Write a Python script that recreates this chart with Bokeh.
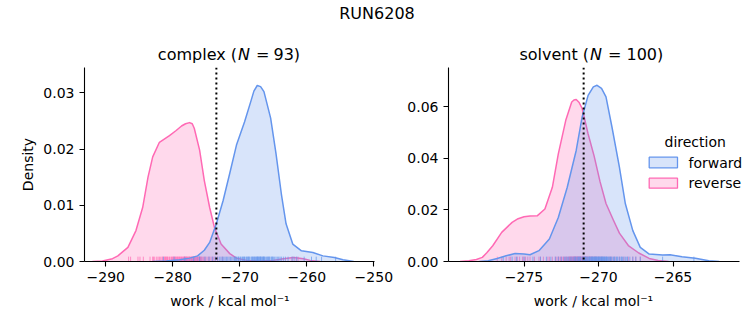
from bokeh.plotting import figure
from bokeh.layouts import column, row
from bokeh.models import Label, Span, BoxAnnotation, FixedTicker
from bokeh.embed import file_html
from bokeh.resources import INLINE

FONT = "DejaVu Sans"
BLUE = "#6495ED"
PINK = "#FF69B4"

suptitle = "RUN6208"
directions = ["forward", "reverse"]
legend_title = "direction"
xlabel = "work / kcal mol\u207b\u00b9"
ylabel = "Density"
complex_title = ["complex (", "N", "=", "93)"]
solvent_title = ["solvent (", "N", "=", "100)"]

# ---- complex phase (N = 93) ----
complex_fwd_x = [-283.0, -281.0, -279.0, -277.5, -276.3, -275.3, -274.5, -273.5, -272.5, -271.5,
                 -270.5, -269.3, -268.3, -267.9, -267.4, -266.9, -266.4, -265.4, -264.6, -263.8,
                 -263.1, -262.1, -260.8, -259.1, -257.6, -255.9, -254.6, -253.0]
complex_fwd_y = [0.0000, 0.0001, 0.0003, 0.0006, 0.0010, 0.0020, 0.0034, 0.0067, 0.0108, 0.0157,
                 0.0207, 0.0248, 0.0287, 0.0303, 0.0313, 0.0311, 0.0302, 0.0255, 0.0192, 0.0120,
                 0.0067, 0.0031, 0.0019, 0.0016, 0.0010, 0.0007, 0.0003, 0.0000]
complex_rev_x = [-292.0, -290.5, -289.0, -288.2, -286.7, -285.5, -284.5, -283.7, -283.0, -282.0,
                 -280.5, -279.5, -278.7, -278.1, -277.5, -277.1, -276.8, -276.0, -275.3, -274.5,
                 -273.8, -272.8, -271.5, -270.5, -269.0, -267.0, -265.0, -263.5, -262.0, -260.5,
                 -259.5, -258.0]
complex_rev_y = [0.0000, 0.0001, 0.0005, 0.0010, 0.0025, 0.0055, 0.0096, 0.0150, 0.0186, 0.0212,
                 0.0224, 0.0233, 0.0241, 0.0245, 0.0247, 0.0245, 0.0237, 0.0198, 0.0144, 0.0096,
                 0.0061, 0.0031, 0.0014, 0.0006, 0.0002, 0.0001, 0.0002, 0.0005, 0.0007, 0.0005,
                 0.0002, 0.0000]
complex_fwd_rug = [-281.4, -279.8, -278.2, -276.9, -276.0, -275.2, -274.6, -274.1, -273.7, -273.3,
                   -273.0, -272.8, -272.6, -272.4, -272.2, -272.0, -271.8, -271.6, -271.4, -271.2,
                   -271.0, -270.8, -270.6, -270.5, -270.3, -270.1, -269.9, -269.8, -269.6, -269.5,
                   -269.3, -269.2, -269.0, -268.9, -268.7, -268.6, -268.5, -268.3, -268.2, -268.1,
                   -267.9, -267.8, -267.7, -267.6, -267.5, -267.4, -267.3, -267.2, -267.1, -267.0,
                   -266.9, -266.8, -266.7, -266.6, -266.5, -266.4, -266.3, -266.2, -266.0, -265.9,
                   -265.8, -265.6, -265.5, -265.3, -265.2, -265.0, -264.8, -264.6, -264.4, -264.2,
                   -264.0, -263.8, -263.5, -263.2, -262.8, -262.2, -261.9, -261.5, -260.4, -259.3,
                   -258.6, -257.8, -255.7, -270.7, -270.2, -269.4, -268.8, -268.0, -267.35, -266.95,
                   -266.45, -265.7, -265.1]
complex_rev_rug = [-286.6, -286.3, -285.2, -284.9, -284.4, -283.4, -283.0, -282.7, -282.4, -282.2,
                   -282.0, -281.8, -281.6, -281.5, -281.3, -281.1, -281.0, -280.8, -280.7, -280.5,
                   -280.4, -280.2, -280.1, -279.9, -279.8, -279.7, -279.5, -279.4, -279.3, -279.1,
                   -279.0, -278.9, -278.8, -278.7, -278.5, -278.4, -278.3, -278.2, -278.1, -278.0,
                   -277.9, -277.8, -277.7, -277.6, -277.5, -277.4, -277.3, -277.2, -277.1, -277.0,
                   -276.9, -276.8, -276.7, -276.6, -276.5, -276.4, -276.3, -276.2, -276.1, -276.0,
                   -275.9, -275.8, -275.7, -275.6, -275.4, -275.3, -275.1, -274.9, -274.7, -274.5,
                   -274.3, -274.1, -273.9, -273.6, -273.3, -272.6, -262.2, -261.6, -261.3, -282.9,
                   -281.2, -280.0, -279.6, -278.6, -277.95, -277.55, -277.15, -276.75, -276.35, -275.95,
                   -280.9, -279.2, -278.25]
complex_marker = -273.5

# ---- solvent phase (N = 100) ----
solvent_fwd_x = [-278.0, -277.4, -276.8, -276.2, -275.6, -275.0, -274.6, -274.0, -273.3, -272.7,
                 -272.1, -271.5, -271.1, -270.7, -270.35, -270.1, -269.8, -269.5, -269.1, -268.6,
                 -268.2, -267.7, -267.2, -266.6, -265.7, -265.2, -264.4, -263.5, -262.6, -261.9]
solvent_fwd_y = [0.0000, 0.0003, 0.0012, 0.0022, 0.0031, 0.0029, 0.0026, 0.0042, 0.0087, 0.0171,
                 0.0288, 0.0431, 0.0561, 0.0645, 0.0678, 0.0684, 0.0672, 0.0639, 0.0522, 0.0366,
                 0.0224, 0.0120, 0.0055, 0.0029, 0.0025, 0.0026, 0.0018, 0.0013, 0.0003, 0.0000]
solvent_rev_x = [-279.3, -278.7, -278.2, -277.8, -277.5, -277.1, -276.5, -275.8, -275.4, -275.0,
                 -274.6, -274.1, -273.6, -273.1, -272.7, -272.2, -271.8, -271.65, -271.5, -271.3,
                 -271.1, -270.7, -270.3, -269.9, -269.5, -269.0, -268.6, -268.0, -267.3, -266.6,
                 -266.0, -265.3]
solvent_rev_y = [0.0000, 0.0003, 0.0008, 0.0016, 0.0034, 0.0061, 0.0113, 0.0152, 0.0166, 0.0174,
                 0.0177, 0.0178, 0.0204, 0.0288, 0.0418, 0.0548, 0.0619, 0.0627, 0.0629, 0.0617,
                 0.0594, 0.0495, 0.0410, 0.0310, 0.0225, 0.0160, 0.0110, 0.0062, 0.0033, 0.0012,
                 0.0004, 0.0000]
solvent_fwd_rug = [-276.4, -275.8, -275.5, -275.0, -274.4, -273.9, -273.5, -273.2, -272.9, -272.7,
                   -272.5, -272.3, -272.2, -272.0, -271.9, -271.8, -271.6, -271.5, -271.4, -271.3,
                   -271.2, -271.1, -271.0, -270.9, -270.85, -270.8, -270.7, -270.65, -270.6, -270.5,
                   -270.45, -270.4, -270.35, -270.3, -270.25, -270.2, -270.15, -270.1, -270.05, -270.0,
                   -269.95, -269.9, -269.85, -269.8, -269.75, -269.7, -269.65, -269.6, -269.55, -269.5,
                   -269.45, -269.4, -269.35, -269.3, -269.2, -269.1, -269.0, -268.9, -268.8, -268.7,
                   -268.6, -268.5, -268.4, -268.3, -268.2, -268.1, -267.9, -267.7, -267.5, -267.2,
                   -265.7, -263.6, -270.75, -270.55, -271.7, -271.05, -270.95, -269.25, -269.15, -268.95,
                   -270.12, -270.38, -270.62, -269.72, -269.48, -271.35, -271.25, -268.75, -272.1, -271.55,
                   -270.02, -269.92, -270.28, -270.48, -269.62, -269.82, -270.18, -270.88, -268.45, -268.05]
solvent_rev_rug = [-276.8, -276.5, -276.2, -275.9, -275.6, -275.3, -275.1, -274.9, -274.6, -274.3,
                   -274.0, -273.7, -273.4, -273.1, -272.9, -272.7, -272.5, -272.4, -272.3, -272.2,
                   -272.1, -272.0, -271.95, -271.9, -271.85, -271.8, -271.75, -271.7, -271.65, -271.6,
                   -271.55, -271.5, -271.45, -271.4, -271.35, -271.3, -271.25, -271.2, -271.15, -271.1,
                   -271.05, -271.0, -270.95, -270.9, -270.85, -270.8, -270.75, -270.7, -270.65, -270.6,
                   -270.5, -270.4, -270.3, -270.2, -270.1, -270.0, -269.9, -269.7, -269.5, -269.3,
                   -269.1, -268.9, -268.6, -268.3, -268.0, -267.7, -267.5, -267.2, -275.45, -274.75,
                   -272.65, -272.35, -272.15, -271.98, -271.88, -271.78, -271.68, -271.58, -271.48, -271.38,
                   -271.28, -271.18, -271.08, -270.98, -270.88, -270.78, -276.0, -275.0, -273.9, -273.3,
                   -272.8, -272.55, -271.62, -271.42, -271.22, -270.55, -270.45, -270.25, -269.8, -269.2]
solvent_marker = -271.0

complex_xticks = [-290, -280, -270, -260, -250]
complex_xticklabels = ["\u2212290", "\u2212280", "\u2212270", "\u2212260", "\u2212250"]
complex_yticks = [0.0, 0.01, 0.02, 0.03]
complex_yticklabels = ["0.00", "0.01", "0.02", "0.03"]
solvent_xticks = [-275, -270, -265]
solvent_xticklabels = ["\u2212275", "\u2212270", "\u2212265"]
solvent_yticks = [0.0, 0.02, 0.04, 0.06]
solvent_yticklabels = ["0.00", "0.02", "0.04", "0.06"]

# ---- layout geometry (page pixels) ----
TITLE_H = 66
BOT_Y = 290                    # page y where the bottom strip begins
BOT_H = 325 - BOT_Y
PANEL_H = BOT_Y - TITLE_H
TOP = 67      # frame top on page
BOTTOM = 261  # frame bottom on page


class Mapper:
    def __init__(self, left, right, xr, yr):
        self.left, self.right, self.xr, self.yr = left, right, xr, yr

    def x(self, px):
        return self.xr[0] + (px - self.left) / (self.right - self.left) * (self.xr[1] - self.xr[0])

    def y(self, py):
        return self.yr[0] + (BOTTOM - py) / (BOTTOM - TOP) * (self.yr[1] - self.yr[0])


def make_panel(width, left, right, page_left, xr, yr, xticks, xtl, yticks, ytl, ylab, xbounds):
    p = figure(width=width, height=PANEL_H, x_range=xr, y_range=yr,
               toolbar_location=None, output_backend="svg",
               min_border_left=left - page_left, min_border_right=page_left + width - right,
               min_border_top=TOP - TITLE_H, min_border_bottom=BOT_Y - BOTTOM)
    p.outline_line_color = None
    p.xgrid.visible = False
    p.ygrid.visible = False
    for ax in (p.xaxis[0], p.yaxis[0]):
        ax.axis_line_color = "black"
        ax.axis_line_width = 1.1
        ax.major_tick_line_color = "black"
        ax.major_tick_line_width = 1.1
        ax.major_tick_out = 5
        ax.major_tick_in = 0
        ax.minor_tick_line_color = None
        ax.major_label_text_font = FONT
        ax.major_label_text_font_size = "14px"
        ax.major_label_text_color = "black"
        ax.major_label_standoff = 5
        ax.axis_label_text_font = FONT
        ax.axis_label_text_font_size = "14px"
        ax.axis_label_text_font_style = "normal"
        ax.axis_label_text_color = "black"
    p.yaxis.axis_label_standoff = 4
    p.xaxis.ticker = FixedTicker(ticks=xticks)
    p.xaxis.major_label_overrides = dict(zip(xticks, xtl))
    p.xaxis.bounds = xbounds
    p.yaxis.ticker = FixedTicker(ticks=yticks)
    p.yaxis.major_label_overrides = dict(zip(yticks, ytl))
    if ylab:
        p.yaxis.axis_label = ylab
    return p


def draw_kde(p, xs, ys, rug, color, ytop):
    p.varea(x=xs, y1=[0] * len(xs), y2=ys, fill_color=color, fill_alpha=0.25)
    p.line(x=xs, y=ys, line_color=color, line_width=1.5, line_join="round")
    p.segment(x0=rug, y0=[0] * len(rug), x1=rug, y1=[0.025 * ytop] * len(rug),
              line_color=color, line_alpha=0.7, line_width=1)


def make_strip(height):
    s = figure(width=753, height=height, x_range=(0, 753), y_range=(0, height),
               toolbar_location=None, output_backend="svg", min_border=0,
               x_axis_location=None, y_axis_location=None)
    s.outline_line_color = None
    s.xgrid.visible = False
    s.ygrid.visible = False
    return s


def strip_text(s, top, height, txt, px, py, align="center", style="normal", size="16px"):
    s.add_layout(Label(x=px, y=top + height - py, text=txt, text_align=align,
                       text_baseline="middle", text_font=FONT, text_font_size=size,
                       text_font_style=style, text_color="black"))


# ---- title strip (suptitle + panel titles), page coordinates ----
pt = make_strip(TITLE_H)
strip_text(pt, 0, TITLE_H, suptitle, 376.5, 13)
for parts, xs in ((complex_title, (236.5, 237.5, 255.5, 273.0)),
                  (solvent_title, (588.5, 589.5, 607.5, 626.0))):
    strip_text(pt, 0, TITLE_H, parts[0], xs[0], 54, "right")
    strip_text(pt, 0, TITLE_H, parts[1], xs[1], 54, "left", "italic")
    strip_text(pt, 0, TITLE_H, parts[2], xs[2], 54, "left")
    strip_text(pt, 0, TITLE_H, parts[3], xs[3], 54, "left")

# ---- bottom strip (x-axis labels), page coordinates ----
pb = make_strip(BOT_H)
strip_text(pb, BOT_Y, BOT_H, xlabel, 229.5, 300, size="14px")
strip_text(pb, BOT_Y, BOT_H, xlabel, 593.0, 300, size="14px")

# ---- left panel: complex ----
P1W = 395
xr1 = (-293.18, -249.9)
yr1 = (0.0, 0.0345)
p1 = make_panel(P1W, 84, 374, 0, xr1, yr1, complex_xticks, complex_xticklabels,
                complex_yticks, complex_yticklabels, ylabel, xr1)
draw_kde(p1, complex_rev_x, complex_rev_y, complex_rev_rug, PINK, yr1[1])
draw_kde(p1, complex_fwd_x, complex_fwd_y, complex_fwd_rug, BLUE, yr1[1])
p1.add_layout(Span(location=complex_marker, dimension="height", line_color="black",
                   line_width=2, line_dash="2 3"))

# ---- right panel: solvent (frame extends to page edge; axis line bounded) ----
P2W = 753 - P1W
axis2 = (-280.07, -260.54)
scale2 = (739 - 448) / (axis2[1] - axis2[0])
xr2 = (axis2[0], axis2[1] + (753 - 739) / scale2)
yr2 = (0.0, 0.0753)
p2 = make_panel(P2W, 448, 753, P1W, xr2, yr2, solvent_xticks, solvent_xticklabels,
                solvent_yticks, solvent_yticklabels, None, axis2)
draw_kde(p2, solvent_rev_x, solvent_rev_y, solvent_rev_rug, PINK, yr2[1])
draw_kde(p2, solvent_fwd_x, solvent_fwd_y, solvent_fwd_rug, BLUE, yr2[1])
p2.add_layout(Span(location=solvent_marker, dimension="height", line_color="black",
                   line_width=2, line_dash="2 3"))
m2 = Mapper(448, 753, xr2, yr2)

# legend (drawn manually to match layout)
p2.add_layout(Label(x=m2.x(694.7), y=m2.y(141), text=legend_title, text_align="center",
                    text_baseline="middle", text_font=FONT, text_font_size="14px",
                    text_color="black"))
for (name, color, ytop, ybot) in zip(directions, [BLUE, PINK], [156.7, 177.7], [167.3, 187.7]):
    p2.add_layout(BoxAnnotation(left=m2.x(648.7), right=m2.x(677.0), top=m2.y(ytop),
                                bottom=m2.y(ybot), fill_color=color, fill_alpha=0.25,
                                line_color=color, line_alpha=1.0, line_width=1.3))
    p2.add_layout(Label(x=m2.x(688), y=m2.y((ytop + ybot) / 2), text=name, text_align="left",
                        text_baseline="middle", text_font=FONT, text_font_size="14px",
                        text_color="black"))

layout = column(pt, row(p1, p2, spacing=0), pb, spacing=0)
open("out.html", "w").write(file_html(layout, INLINE))
